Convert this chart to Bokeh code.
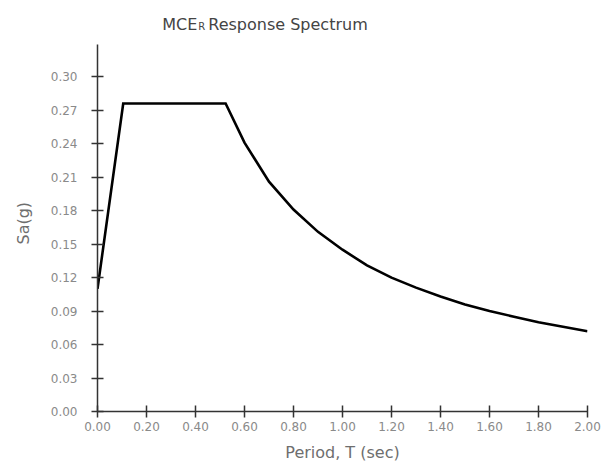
from bokeh.plotting import figure
from bokeh.models import Range1d, FixedTicker, NumeralTickFormatter, Label, Title
from bokeh.embed import file_html
from bokeh.resources import INLINE

# Data
period = [0.0, 0.105, 0.523, 0.6, 0.7, 0.8, 0.9, 1.0, 1.1, 1.2, 1.3, 1.4, 1.5, 1.6, 1.7, 1.8, 1.9, 2.0]
sa = [0.110, 0.276, 0.276, 0.241, 0.206, 0.181, 0.161, 0.145, 0.131, 0.120, 0.111, 0.103,
      0.096, 0.090, 0.085, 0.080, 0.076, 0.072]
x_ticks = [0.0, 0.2, 0.4, 0.6, 0.8, 1.0, 1.2, 1.4, 1.6, 1.8, 2.0]
y_ticks = [0.0, 0.03, 0.06, 0.09, 0.12, 0.15, 0.18, 0.21, 0.24, 0.27, 0.30]
title_main = "MCE"
title_sub = "R"
title_rest = "Response Spectrum"
x_label = "Period, T (sec)"
y_label = "Sa(g)"

FONT = "DejaVu Sans"
TXT = "#6e6e6e"
Y_AXIS_TOP = 0.329   # end of drawn y-axis line
Y_FRAME_TOP = 0.3594  # extra room above for the title

p = figure(width=607, height=464, output_backend="svg", toolbar_location=None,
           x_range=Range1d(0, 2.0), y_range=Range1d(0, Y_FRAME_TOP),
           min_border_left=96, min_border_right=20, min_border_top=10, min_border_bottom=52)
p.outline_line_color = None
p.xgrid.visible = False
p.ygrid.visible = False

p.line(period, sa, line_color="black", line_width=2.6, line_join="miter")

for ax in (p.xaxis[0], p.yaxis[0]):
    ax.axis_line_color = "#333333"
    ax.axis_line_width = 1.5
    ax.major_tick_line_color = "#333333"
    ax.major_tick_line_width = 1.5
    ax.major_tick_in = 6
    ax.major_tick_out = 6
    ax.minor_tick_line_color = None
    ax.major_label_text_font = FONT
    ax.major_label_text_font_size = "12px"
    ax.major_label_text_color = "#8a8a8a"
    ax.axis_label_text_font = FONT
    ax.axis_label_text_font_size = "16px"
    ax.axis_label_text_font_style = "normal"
    ax.axis_label_text_color = TXT
    ax.formatter = NumeralTickFormatter(format="0.00")

p.xaxis[0].ticker = FixedTicker(ticks=x_ticks)
p.yaxis[0].ticker = FixedTicker(ticks=y_ticks)
p.yaxis[0].bounds = (0, Y_AXIS_TOP)
p.xaxis[0].axis_label = x_label
p.xaxis[0].major_label_standoff = 4
p.xaxis[0].axis_label_standoff = 9
p.yaxis[0].major_label_standoff = 14

# y-axis label as a left title, placed alongside the drawn axis
p.add_layout(Title(text=y_label, align="left", vertical_align="top", offset=167, standoff=26,
                   text_font=FONT, text_font_size="16px", text_font_style="normal",
                   text_color=TXT), "left")

# Title with subscript R
tx = 0.4073
ty = 0.347
p.add_layout(Label(x=tx, y=ty, text=title_main, text_font=FONT, text_font_size="16px",
                   text_color="#444444", text_baseline="alphabetic", text_align="right"))
p.add_layout(Label(x=tx, y=ty, x_offset=1, y_offset=-2, text=title_sub, text_font=FONT,
                   text_font_size="10px", text_color="#444444", text_baseline="alphabetic"))
p.add_layout(Label(x=tx, y=ty, x_offset=11, text=title_rest, text_font=FONT,
                   text_font_size="16px", text_color="#444444", text_baseline="alphabetic"))

open("out.html", "w").write(file_html(p, INLINE))
